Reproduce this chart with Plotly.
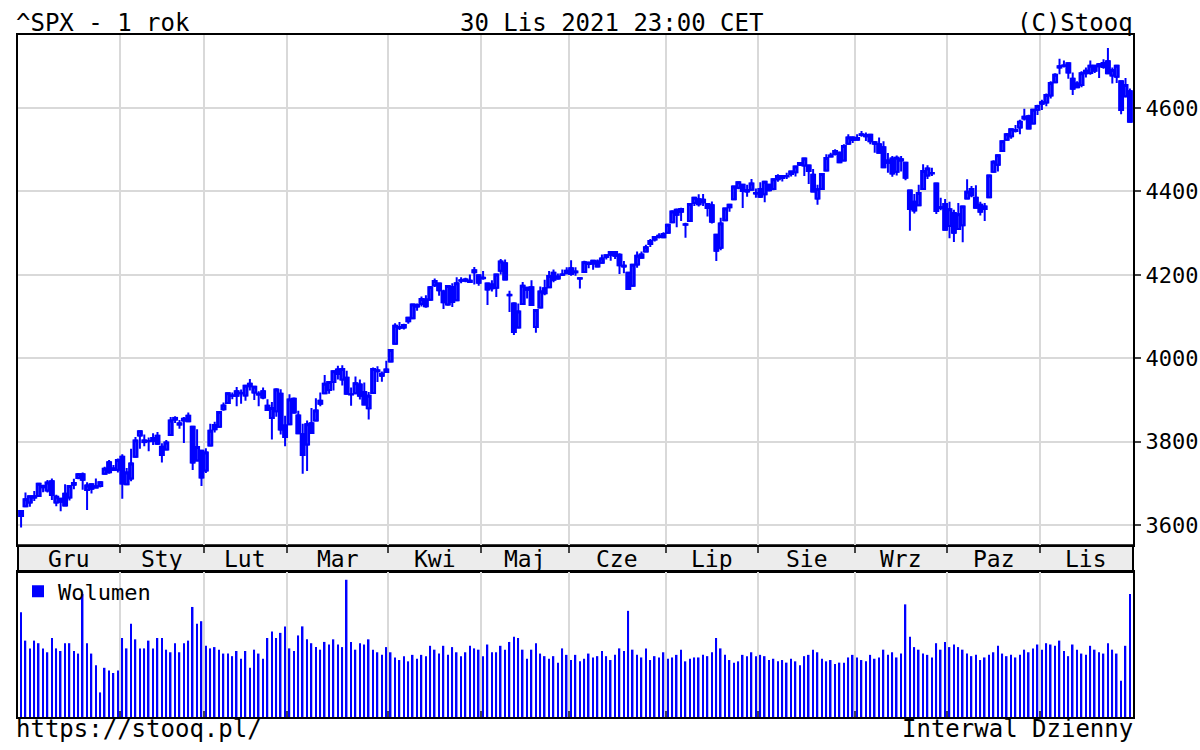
import plotly.graph_objects as go

# daily OHLC, ^SPX, 30 Nov 2020 - 30 Nov 2021
opens = [3634,
 3645,3654,3669,3670,3694,3683,3705,3654,3656,3675,3666,3697,3713,3722,3684,3698,3693,3694,3723,3751,3736,3733,
 3764,3698,3712,3764,3815,3803,3801,3802,3814,3788,3781,3816,3857,3844,3851,3862,3836,3755,3778,
 3731,3791,3840,3836,3878,3893,3910,3921,3917,3911,3939,3918,3915,3921,3886,3857,3873,3915,3839,
 3842,3903,3863,3818,3793,3844,3851,3891,3916,3924,3943,3973,3949,3953,3913,3916,3937,3919,3880,3917,3969,3963,3967,
 3992,4035,4075,4074,4089,4096,4124,4130,4141,4140,4175,4179,4160,4129,4171,4139,4186,4189,4186,4206,4199,
 4192,4179,4177,4169,4210,4228,4151,4131,4074,4130,4169,4170,4075,4122,4168,4170,4205,4191,4201,4210,
 4216,4206,4191,4207,4229,4234,4232,4229,4243,4248,4255,4248,4220,4205,4174,4225,4249,4256,4274,4285,4294,4290,
 4301,4326,4356,4351,4321,4329,4372,4381,4380,4370,4367,4296,4265,4331,4362,4381,4409,4416,4403,4404,4396,
 4406,4393,4416,4406,4429,4437,4436,4442,4446,4464,4462,4462,4440,4383,4406,4450,4484,4490,4493,4474,4514,4529,
 4528,4535,4532,4536,4518,4513,4506,4474,4479,4447,4477,4469,4402,4375,4367,4406,4438,4443,4419,4362,4370,
 4317,4348,4310,4319,4383,4406,4385,4368,4358,4386,4447,4464,4497,4524,4532,4547,4553,4579,4580,4563,4596,
 4610,4613,4630,4662,4700,4701,4707,4670,4659,4655,4689,4684,4701,4700,4708,4712,4678,4675,4664,4628,4640]
highs = [3634,
 3678,3670,3682,3699,3697,3708,3712,3673,3665,3698,3695,3711,3725,3726,3703,3698,3712,3703,3740,3756,3744,3760,
 3770,3737,3783,3811,3826,3817,3810,3820,3823,3796,3804,3859,3861,3852,3859,3870,3836,3830,3778,
 3784,3843,3848,3872,3894,3916,3918,3931,3925,3934,3950,3933,3921,3930,3902,3895,3928,3926,3862,
 3914,3906,3874,3843,3851,3881,3904,3918,3960,3944,3970,3982,3983,3970,3930,3956,3949,3942,3919,3978,3981,3968,3994,
 4018,4084,4087,4083,4098,4129,4131,4148,4151,4173,4191,4180,4164,4175,4180,4194,4194,4193,4201,4219,4199,
 4209,4179,4187,4202,4238,4237,4162,4134,4131,4183,4171,4187,4117,4172,4188,4209,4213,4203,4213,4218,
 4235,4218,4192,4234,4232,4236,4237,4249,4249,4255,4257,4252,4233,4205,4226,4256,4256,4272,4286,4293,4300,4302,
 4320,4355,4359,4361,4325,4372,4386,4393,4394,4372,4376,4296,4337,4359,4370,4412,4422,4416,4416,4430,4407,
 4422,4424,4417,4430,4441,4439,4445,4449,4461,4468,4480,4462,4454,4416,4441,4489,4493,4501,4496,4513,4537,4532,
 4537,4545,4541,4536,4521,4529,4520,4492,4485,4486,4485,4471,4403,4394,4416,4465,4463,4457,4419,4385,4382,
 4375,4356,4372,4366,4429,4413,4415,4375,4372,4439,4475,4487,4520,4540,4551,4559,4572,4598,4584,4598,4608,
 4620,4635,4664,4683,4718,4714,4708,4685,4664,4688,4697,4714,4701,4708,4717,4744,4697,4702,4664,4672,4647]
lows = [3594,
 3645,3644,3658,3670,3679,3678,3660,3645,3633,3645,3659,3686,3710,3685,3636,3676,3689,3690,3723,3723,3730,3726,
 3663,3696,3705,3764,3783,3789,3777,3792,3792,3750,3781,3816,3845,3831,3797,3848,3732,3755,3694,
 3725,3791,3822,3836,3874,3892,3902,3885,3891,3898,3923,3900,3885,3902,3874,3805,3860,3817,3789,
 3842,3867,3818,3723,3730,3819,3851,3885,3916,3915,3923,3949,3935,3914,3886,3916,3901,3889,3853,3917,3943,3944,3967,
 3992,4035,4068,4069,4083,4095,4114,4124,4121,4140,4171,4150,4118,4126,4123,4138,4180,4182,4181,4177,4174,
 4188,4128,4160,4147,4201,4188,4111,4056,4074,4130,4143,4127,4061,4122,4151,4170,4182,4188,4197,4203,
 4198,4198,4167,4207,4216,4212,4219,4229,4237,4234,4238,4202,4204,4165,4174,4217,4241,4256,4267,4280,4287,4288,
 4301,4326,4314,4329,4289,4329,4365,4364,4365,4340,4323,4233,4259,4331,4351,4381,4405,4360,4387,4404,4385,
 4384,4374,4400,4403,4423,4424,4430,4436,4436,4461,4437,4418,4400,4368,4406,4450,4482,4486,4468,4474,4514,4516,
 4522,4531,4521,4513,4493,4493,4457,4445,4435,4438,4448,4427,4306,4347,4367,4406,4430,4437,4346,4355,4307,
 4288,4279,4310,4278,4383,4386,4360,4342,4329,4386,4447,4448,4496,4524,4526,4541,4537,4570,4551,4563,4583,
 4595,4604,4623,4662,4681,4697,4670,4631,4649,4650,4673,4680,4684,4672,4694,4683,4659,4660,4585,4625,4565]
closes = [3622,
 3662,3669,3666,3699,3691,3702,3672,3668,3663,3647,3694,3701,3722,3709,3695,3687,3690,3703,3735,3727,3732,3756,
 3700,3726,3748,3803,3825,3799,3801,3809,3795,3768,3798,3851,3853,3841,3855,3849,3750,3787,3714,
 3774,3826,3830,3871,3887,3916,3911,3910,3916,3934,3933,3932,3913,3906,3876,3881,3925,3829,3811,
 3901,3870,3820,3768,3842,3821,3875,3898,3939,3943,3969,3962,3974,3915,3913,3940,3910,3889,3910,3974,3971,3958,3973,
 4020,4078,4073,4080,4097,4129,4128,4142,4125,4170,4185,4163,4134,4173,4135,4180,4187,4186,4183,4211,4181,
 4193,4165,4168,4201,4232,4189,4152,4063,4112,4174,4164,4128,4116,4160,4156,4197,4188,4196,4200,4204,
 4202,4208,4192,4230,4226,4227,4220,4239,4247,4255,4246,4223,4222,4166,4224,4246,4241,4266,4281,4291,4291,4298,
 4320,4352,4344,4358,4320,4370,4385,4369,4374,4360,4327,4258,4323,4359,4368,4412,4422,4401,4400,4419,4395,
 4387,4423,4403,4429,4437,4432,4436,4448,4460,4468,4479,4449,4400,4405,4442,4480,4486,4497,4470,4509,4529,4523,
 4524,4537,4535,4520,4514,4493,4458,4469,4443,4481,4474,4433,4358,4354,4396,4449,4455,4443,4353,4360,4308,
 4357,4301,4345,4364,4399,4391,4361,4351,4364,4438,4471,4487,4520,4537,4549,4545,4567,4575,4551,4596,4605,
 4614,4631,4660,4680,4697,4702,4685,4646,4650,4683,4683,4701,4689,4705,4698,4683,4691,4701,4595,4655,4567]
volume = [81,
 59,53,59,57,53,50,61,53,51,57,57,51,49,95,57,49,40,19,38,36,34,36,
 61,53,72,60,53,53,59,53,61,61,52,50,57,50,57,59,85,72,74,
 55,53,54,52,49,49,47,51,45,51,38,52,49,45,61,66,61,65,70,
 53,51,63,70,60,57,54,52,58,56,60,56,54,106,58,52,57,56,60,52,50,48,54,
 50,46,44,47,43,48,45,48,47,55,52,49,55,48,54,50,47,50,55,53,52,
 47,56,50,50,55,52,58,62,61,52,45,52,57,49,47,45,47,42,53,48,
 44,48,43,45,49,46,47,51,47,44,48,53,51,82,52,48,46,53,44,47,46,50,
 45,46,48,52,43,45,46,46,48,47,50,61,53,48,44,42,43,48,47,50,47,
 48,47,44,45,43,44,42,45,43,40,47,48,52,50,45,43,44,41,42,42,46,48,
 46,44,43,48,45,46,52,48,50,46,49,87,62,54,52,49,48,46,57,52,58,
 54,56,54,52,49,47,48,44,46,48,50,55,49,47,48,46,48,52,50,53,56,
 52,57,56,55,59,51,47,56,52,49,48,55,52,50,49,57,52,49,28,55,95]
months = ["Gru", "Sty", "Lut", "Mar", "Kwi", "Maj", "Cze", "Lip", "Sie", "Wrz", "Paz", "Lis"]
month_days = [23, 19, 19, 23, 21, 20, 22, 21, 22, 21, 21, 21]
price_ticks = [3600, 3800, 4000, 4200, 4400, 4600]

BLUE = "#0000ff"
FONT = "DejaVu Sans Mono"
x = list(range(len(closes)))

# month boundaries and centres in bar index units
bounds, centres, start = [], [], 0
for n in month_days:
    centres.append(start + (n - 1) / 2)
    start += n
    bounds.append(start - 0.5)

# candle bodies drawn as floating bars so they get a proper width
body_base = [min(o, c) for o, c in zip(opens, closes)]
body_len = [max(abs(c - o), 1) for o, c in zip(opens, closes)]
body_fill = ["white" if c >= o else BLUE for o, c in zip(opens, closes)]

fig = go.Figure()
fig.add_trace(go.Candlestick(
    x=x, open=opens, high=highs, low=lows, close=closes,
    increasing=dict(line=dict(color=BLUE, width=2), fillcolor="white"),
    decreasing=dict(line=dict(color=BLUE, width=2), fillcolor=BLUE),
    whiskerwidth=0, showlegend=False, xaxis="x", yaxis="y",
))
fig.add_trace(go.Bar(
    x=x, y=body_len, base=body_base, width=0.9,
    marker=dict(color=body_fill, line=dict(color=BLUE, width=2)),
    showlegend=False, hoverinfo="skip", xaxis="x", yaxis="y",
))
fig.add_trace(go.Bar(
    x=x, y=volume, name="Wolumen",
    marker=dict(color=BLUE, line=dict(width=0)),
    width=0.35, xaxis="x2", yaxis="y2", showlegend=True,
))

xr = [-0.7, len(x) - 0.3]
grid = "#d9d9d9"
axis_common = dict(showline=True, linecolor="black", linewidth=2, mirror=True, zeroline=False)
fig.update_layout(
    width=1200, height=750, plot_bgcolor="white", paper_bgcolor="white",
    margin=dict(l=18, r=67, t=35, b=33, autoexpand=False),
    font=dict(family=FONT, size=24, color="black"),
    barmode="overlay",
    xaxis=dict(domain=[0, 1], range=xr, anchor="y", tickvals=bounds[:-1], ticktext=[""] * (len(bounds) - 1),
               showgrid=True, gridcolor=grid, gridwidth=2, ticks="outside", ticklen=6, tickwidth=2,
               rangeslider=dict(visible=False), **axis_common),
    yaxis=dict(domain=[0.252, 1], range=[3552, 4775], side="right", tickvals=price_ticks,
               showgrid=True, gridcolor=grid, gridwidth=2, ticks="outside", ticklen=6, tickwidth=2,
               tickfont=dict(size=22), **axis_common),
    xaxis2=dict(domain=[0, 1], range=xr, anchor="y2", tickvals=bounds[:-1], showticklabels=False,
                showgrid=True, gridcolor=grid, gridwidth=2, ticks="inside", ticklen=6, tickwidth=2,
                **axis_common),
    yaxis2=dict(domain=[0, 0.2126], range=[0, 112], showticklabels=False, showgrid=False, **axis_common),
    legend=dict(x=0.0, y=0.215, xanchor="left", yanchor="top", bgcolor="rgba(0,0,0,0)",
                font=dict(size=22), itemsizing="constant", itemwidth=30),
)

# grey month strip between the panels
fig.add_shape(type="rect", xref="paper", yref="paper", x0=0, x1=1, y0=0.2126, y1=0.252,
              fillcolor="#ececec", line=dict(color="black", width=2), layer="below")
for c, m in zip(centres, months):
    fig.add_annotation(x=c, xref="x", y=0.2323, yref="paper", text=m, showarrow=False,
                       font=dict(size=23), yanchor="middle")

# header / footer texts
fig.add_annotation(x=0, xref="paper", y=1.0, yref="paper", yanchor="bottom", xanchor="left",
                   text="^SPX - 1 rok", showarrow=False, yshift=-4, xshift=-4)
fig.add_annotation(x=0.5, xref="paper", y=1.0, yref="paper", yanchor="bottom", xanchor="center",
                   text="30 Lis 2021 23:00 CET", showarrow=False, yshift=-4, xshift=36)
fig.add_annotation(x=1.0, xref="paper", y=1.0, yref="paper", yanchor="bottom", xanchor="right",
                   text="(C)Stooq", showarrow=False, yshift=-4, xshift=2)
fig.add_annotation(x=0, xref="paper", y=0, yref="paper", yanchor="top", xanchor="left",
                   text="https://stooq.pl/", showarrow=False, yshift=4, xshift=-4)
fig.add_annotation(x=1.0, xref="paper", y=0, yref="paper", yanchor="top", xanchor="right",
                   text="Interwal Dzienny", showarrow=False, yshift=4, xshift=2)

fig.write_html("out.html", config={"displayModeBar": False},
               post_script="document.body.style.margin='0';")
